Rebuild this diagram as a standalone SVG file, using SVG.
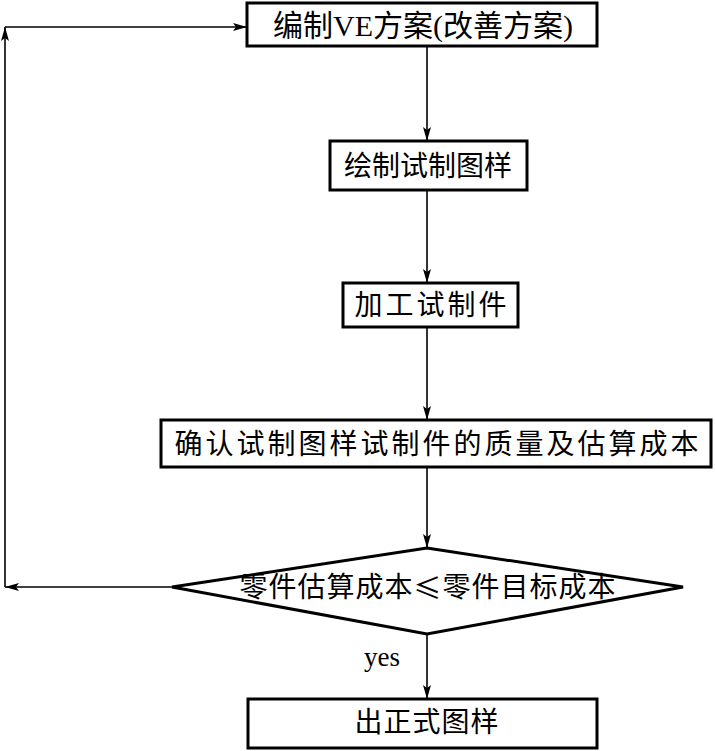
<svg xmlns="http://www.w3.org/2000/svg" width="715" height="751" viewBox="0 0 715 751">
<defs>
<marker id="ah" viewBox="0 0 14 8" refX="14" refY="4" markerWidth="14" markerHeight="8" markerUnits="userSpaceOnUse" orient="auto">
<path d="M0,0 L14,4 L0,8 L3,4 Z" fill="#000"/>
</marker>
<style>
.box{fill:#fff;stroke:#000;stroke-width:3}
.t{font-family:"Liberation Serif","Noto Sans CJK SC",serif;font-size:28px;fill:#000;text-anchor:middle;dominant-baseline:central}
.c{fill:none;stroke:#000;stroke-width:1.6;marker-end:url(#ah)}
</style>
</defs>
<rect width="715" height="751" fill="#fff"/>
<g id="connectors">
<line class="c" x1="427" y1="46" x2="427" y2="141"/>
<line class="c" x1="427" y1="190" x2="427" y2="283"/>
<line class="c" x1="427" y1="327" x2="427" y2="420"/>
<line class="c" x1="427" y1="467" x2="427" y2="548"/>
<line class="c" x1="427" y1="634" x2="427" y2="699"/>
<line class="c" x1="172" y1="587" x2="5" y2="587"/>
<line class="c" x1="5" y1="587" x2="5" y2="27"/>
<line class="c" x1="5" y1="27" x2="247" y2="27"/>
<text x="382" y="657" class="t" style="font-size:27px">yes</text>
</g>
<g id="n1">
<rect class="box" x="247" y="3" width="350" height="43"/>
<text class="t" x="423" y="25" style="font-size:30px">编制VE方案(改善方案)</text>
</g>
<g id="n2">
<rect class="box" x="330" y="141" width="197" height="49"/>
<text class="t" x="428" y="166">绘制试制图样</text>
</g>
<g id="n3">
<rect class="box" x="343" y="283" width="175" height="44"/>
<text class="t" x="432" y="305" style="letter-spacing:3px">加工试制件</text>
</g>
<g id="n4">
<rect class="box" x="161" y="420" width="550" height="47"/>
<text class="t" x="438" y="444" style="letter-spacing:3px">确认试制图样试制件的质量及估算成本</text>
</g>
<g id="n5">
<polygon class="box" points="172,587 427,548 683,587 427,634"/>
<text class="t" x="428" y="587" style="letter-spacing:1px">零件估算成本<tspan style="font-family:'Noto Sans CJK SC',sans-serif">≤</tspan>零件目标成本</text>
</g>
<g id="n6">
<rect class="box" x="248" y="699" width="349" height="49"/>
<text class="t" x="427" y="722" style="letter-spacing:1px">出正式图样</text>
</g>
</svg>
